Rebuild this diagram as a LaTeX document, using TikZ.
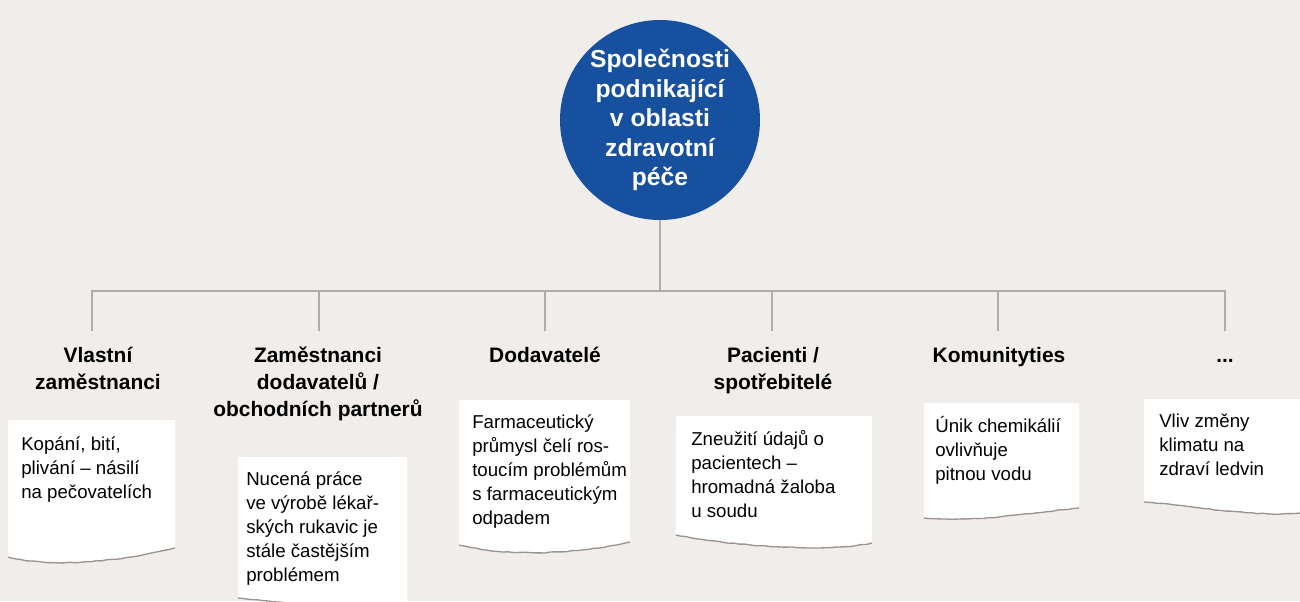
\documentclass[tikz,border=0pt]{standalone}
\usepackage{fontspec}
\setmainfont{Liberation Sans}
\usetikzlibrary{decorations.pathmorphing}

\definecolor{bgbeige}{HTML}{F0EDEA}
\definecolor{hubblue}{HTML}{1850A0}
\definecolor{linegray}{HTML}{B2ABA7}
\definecolor{tearedge}{HTML}{9A9390}

% x1, y1, x2, y left, y right, dip, seed
\newcommand{\tornnote}[7]{%
	\pgfmathsetseed{#7}
	\fill[white] decorate[decoration={random steps,segment length=4pt,amplitude=0.35pt}]
		{(#3,#5) .. controls (#3-50,#5+#6) and (#1+50,#4+#6) .. (#1,#4)}
		-- (#1,#2) -- (#3,#2) -- cycle;
	\pgfmathsetseed{#7}
	\draw[tear] decorate[decoration={random steps,segment length=4pt,amplitude=0.35pt}]
		{(#3,#5) .. controls (#3-50,#5+#6) and (#1+50,#4+#6) .. (#1,#4)};
}

\begin{document}
\begin{tikzpicture}[x=0.75pt, y=-0.75pt,
		link/.style={draw=linegray, line width=1.5pt},
		tear/.style={draw=tearedge, line width=1pt, line join=round},
		heading/.style={anchor=north, align=center, inner sep=0pt,
			font=\fontsize{15.7}{20}\selectfont\bfseries},
		notetext/.style={anchor=north west, align=left, inner sep=0pt,
			font=\fontsize{14}{18}\selectfont}]
			\fill[bgbeige] (0,0) rectangle (1300,601);
			\useasboundingbox (0,0) rectangle (1300,601);

			\node[circle, fill=hubblue, minimum size=150pt, inner sep=0pt, text=white,
				align=center, font=\fontsize{18.5}{22.2}\selectfont\bfseries]
				(hub) at (660,120) {Společnosti\\podnikající\\v oblasti\\zdravotní\\péče};

			\coordinate (bar) at (660,291);
			\foreach \x [count=\i] in {92, 319, 545, 772, 998, 1225}
			{
				\coordinate (t\i) at (\x,291);
				\coordinate (d\i) at (\x,331);
			}
			\draw[link] (hub.south) -- (bar);
			\draw[link] (d1) -- (t1) -- (t6) -- (d6);
			\foreach \i in {2, ..., 5}
			{
				\draw[link] (t\i) -- (d\i);
			}

			\node[heading] (h1) at (98,344) {\strut Vlastní\\zaměstnanci};
			\node[heading] (h2) at (318,344) {\strut Zaměstnanci\\dodavatelů /\\obchodních partnerů};
			\node[heading] (h3) at (545,344) {\strut Dodavatelé};
			\node[heading] (h4) at (773,344) {\strut Pacienti /\\spotřebitelé};
			\node[heading] (h5) at (999,344) {\strut Komunityties};
			\node[heading] (h6) at (1225,344) {\strut ...};

			\tornnote{8}{420}{175}{557}{548}{12}{11}
			\tornnote{238}{457}{407}{598}{604}{6}{12}
			\tornnote{459}{400}{630}{545}{542}{12}{13}
			\tornnote{676}{416}{872}{535}{543}{10}{14}
			\tornnote{924}{403}{1079}{518}{508}{5}{15}
			\tornnote{1144}{399}{1300}{502}{513}{4}{16}

			\node[notetext] (n1) at (21,433) {\strut Kopání, bití,\\plivání – násilí\\na pečovatelích};
			\node[notetext] (n2) at (246,468) {\strut Nucená práce\\ve výrobě lékař-\\ských rukavic je\\stále častějším\\problémem};
			\node[notetext] (n3) at (472,411) {\strut Farmaceutický\\průmysl čelí ros-\\toucím problémům\\s farmaceutickým\\odpadem};
			\node[notetext] (n4) at (691,428) {\strut Zneužití údajů o\\pacientech –\\hromadná žaloba\\u soudu};
			\node[notetext] (n5) at (935,415) {\strut Únik chemikálií\\ovlivňuje\\pitnou vodu};
			\node[notetext] (n6) at (1159,410) {\strut Vliv změny\\klimatu na\\zdraví ledvin};
		\end{tikzpicture}
\end{document}
